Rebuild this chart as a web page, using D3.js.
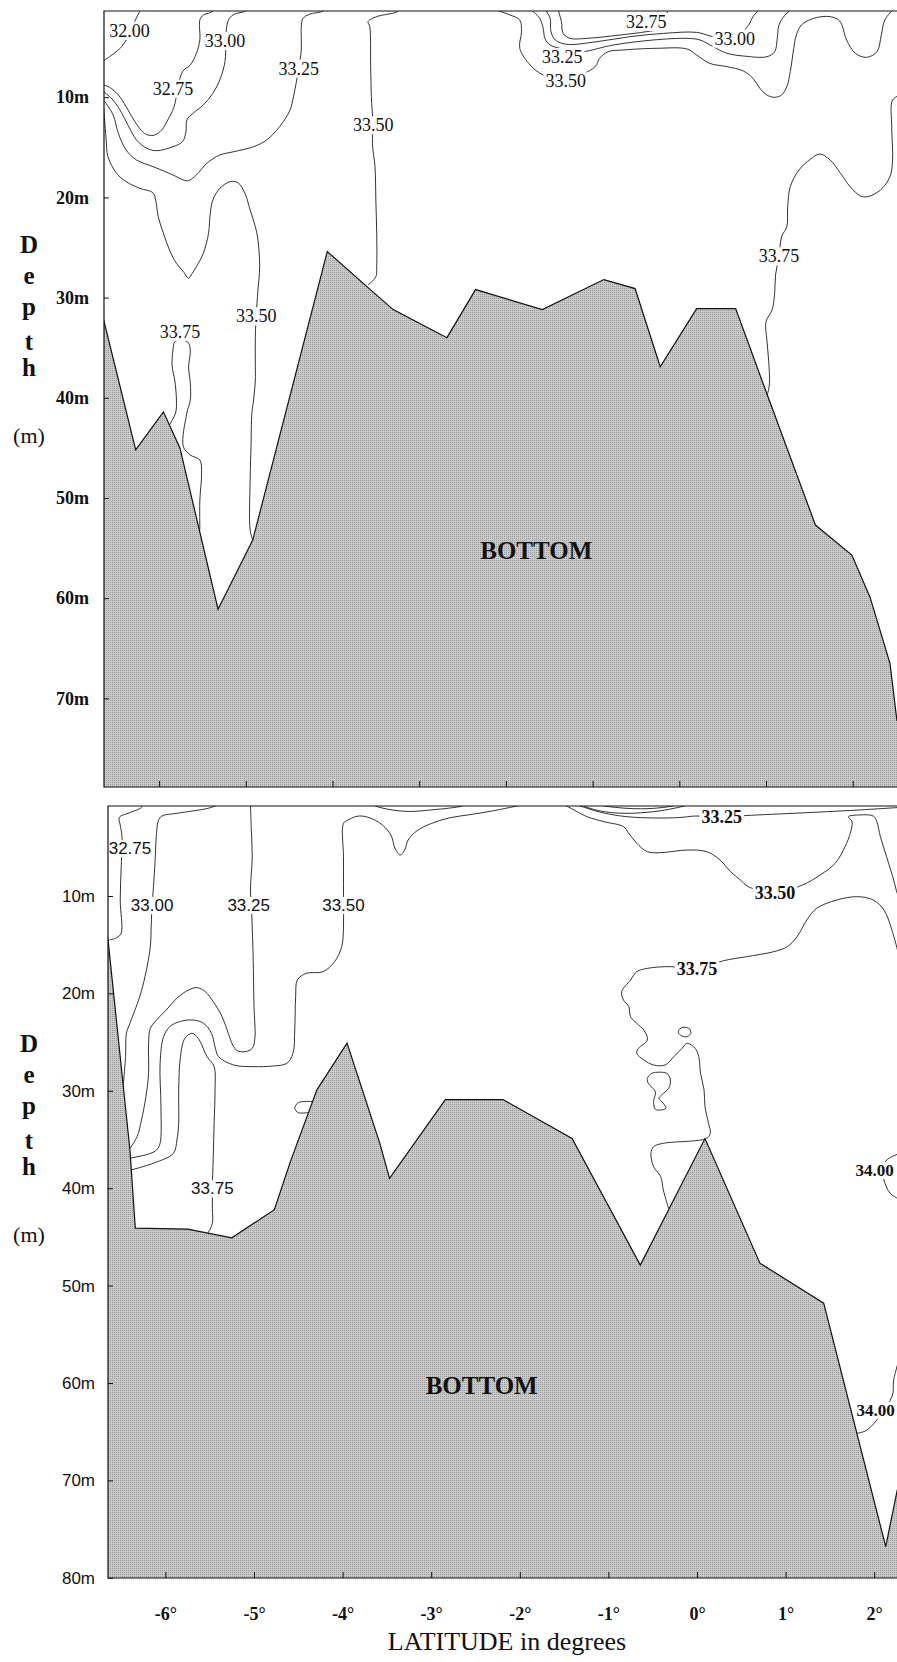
<!DOCTYPE html>
<html>
<head>
<meta charset="UTF-8">
<title>Salinity sections</title>
<style>
  body { margin: 0; background: #fff; }
  svg { display: block; }
</style>
</head>
<body>
<script src="https://d3js.org/d3.v7.min.js"></script>
<script>
// ticks
const latTicks = [-6, -5, -4, -3, -2, -1, 0, 1, 2];
const depthTicksTop = [10, 20, 30, 40, 50, 60, 70];
const depthTicksBottom = [10, 20, 30, 40, 50, 60, 70, 80];
const depthLetters = ["D", "e", "p", "t", "h"];

// ---- upper section, points are [latitude, depth m] ----
const topFloor = [[-6.64,32.2],[-6.27,45.2],[-5.95,41.4],[-5.76,45.0],[-5.32,61.1],[-4.92,54.2],[-4.06,25.4],[-3.59,29.0],[-3.30,31.2],[-2.68,34.0],[-2.35,29.2],[-1.58,31.2],[-0.87,28.2],[-0.51,29.1],[-0.22,36.9],[0.20,31.1],[0.65,31.1],[1.01,39.6],[1.57,52.7],[1.99,55.7],[2.20,59.9],[2.43,66.5],[2.51,72.2]];

const top3200 = [[-6.20,1.2],[-6.23,1.56],[-6.30,2.79],[-6.39,4.46],[-6.47,5.29],[-6.57,5.95],[-6.64,6.35]];
const top3275 = [[-6.64,8.78],[-6.57,9.02],[-6.47,9.78],[-6.38,10.94],[-6.28,12.44],[-6.18,13.54],[-6.13,13.77],[-6.05,13.77],[-5.97,13.27],[-5.89,12.11],[-5.83,11.01],[-5.73,7.45],[-5.64,6.79],[-5.57,5.62],[-5.53,4.29],[-5.53,2.30],[-5.49,1.80],[-5.41,1.56],[-5.35,1.2]];
const top3300 = [[-6.64,9.45],[-6.55,10.11],[-6.45,11.28],[-6.36,12.77],[-6.26,14.27],[-6.14,15.10],[-6.03,15.34],[-5.84,14.94],[-5.73,14.44],[-5.69,13.44],[-5.68,12.28],[-5.61,11.61],[-5.49,10.78],[-5.38,9.61],[-5.30,8.28],[-5.24,6.45],[-5.23,4.29],[-5.22,2.96],[-5.19,2.13],[-5.13,1.70],[-5.03,1.50],[-4.95,1.2]];
const top3325 = [[-6.64,10.28],[-6.53,11.78],[-6.47,13.61],[-6.38,15.27],[-6.26,16.27],[-6.07,16.93],[-5.84,17.76],[-5.72,18.26],[-5.66,18.33],[-5.57,17.76],[-5.45,16.60],[-5.30,15.77],[-5.14,15.44],[-4.91,14.94],[-4.76,14.27],[-4.61,12.94],[-4.49,11.28],[-4.45,9.95],[-4.39,7.12],[-4.36,5.29],[-4.36,2.96],[-4.34,2.13],[-4.26,1.70],[-4.14,1.50],[-4.05,1.2]];
const top3350a = [[-6.64,11.0],[-6.61,14.27],[-6.59,15.94],[-6.49,17.60],[-6.38,18.43],[-6.22,19.10],[-6.07,19.53],[-6.04,20.26],[-6.01,21.92],[-5.95,23.59],[-5.88,25.25],[-5.80,26.58],[-5.72,27.41],[-5.66,28.08],[-5.63,27.74],[-5.57,26.91],[-5.49,25.58],[-5.43,23.59],[-5.41,21.59],[-5.38,20.26],[-5.30,19.10],[-5.18,18.43],[-5.09,18.53],[-5.01,19.59],[-4.95,21.26],[-4.89,22.92],[-4.86,24.25],[-4.84,26.91],[-4.86,29.24],[-4.88,31.84],[-4.89,33.90],[-4.89,36.89],[-4.89,38.22],[-4.91,40.22],[-4.93,41.55],[-4.94,44.88],[-4.95,48.21],[-4.95,53.19],[-4.92,54.19]];
const top3350b = [[-3.22,1.2],[-3.26,1.50],[-3.49,1.96],[-3.59,2.46],[-3.57,2.96],[-3.56,6.95],[-3.55,10.28],[-3.54,11.61],[-3.53,12.77],[-3.54,14.60],[-3.51,16.93],[-3.50,20.26],[-3.49,23.59],[-3.49,26.91],[-3.50,27.91],[-3.59,28.74]];
const top3375a = [[-5.88,42.71],[-5.81,41.52],[-5.80,40.22],[-5.82,38.22],[-5.85,36.83],[-5.84,35.23],[-5.82,34.43],[-5.76,34.23],[-5.67,34.43],[-5.64,35.23],[-5.66,36.93],[-5.64,38.52],[-5.64,40.22],[-5.68,41.52],[-5.72,44.88],[-5.64,45.71],[-5.53,46.21],[-5.51,47.50],[-5.53,50.20],[-5.53,53.19]];
const top3275b = [[-1.40,1.2],[-1.36,2.46],[-1.34,3.63],[-1.26,4.13],[-1.07,4.13],[-0.68,3.79],[-0.38,3.46],[-0.22,3.13],[-0.17,2.30],[-0.13,1.2]];
const top3300b = [[-1.55,1.2],[-1.49,2.13],[-1.48,3.46],[-1.43,4.29],[-1.30,4.72],[-0.95,4.46],[-0.57,3.96],[-0.18,3.63],[0.20,3.53],[0.39,3.96],[0.64,4.13],[0.80,2.79],[0.85,1.96],[0.93,1.2]];
const top3325b = [[-1.72,1.2],[-1.61,2.13],[-1.57,3.13],[-1.55,4.13],[-1.49,4.79],[-1.38,5.12],[-1.26,5.46],[-1.11,5.46],[-0.76,4.79],[-0.30,4.29],[0.09,4.13],[0.24,4.29],[0.39,4.96],[0.55,5.62],[0.74,5.89],[1.01,5.96],[1.10,5.46],[1.13,4.13],[1.15,2.79],[1.22,1.80],[1.30,1.2]];
const top3350c = [[-2.15,1.2],[-1.95,1.80],[-1.84,2.30],[-1.82,3.46],[-1.84,5.12],[-1.72,6.79],[-1.57,7.78],[-1.32,8.30],[-0.97,6.95],[-0.92,6.12],[-0.82,5.46],[-0.65,5.29],[-0.26,5.12],[0.09,5.19],[0.20,5.79],[0.35,6.62],[0.55,6.95],[0.74,7.39],[0.85,8.12],[0.93,9.12],[1.01,9.78],[1.10,10.01],[1.18,9.78],[1.24,8.95],[1.28,7.45],[1.32,5.12],[1.35,3.79],[1.41,2.79],[1.55,2.13],[1.74,1.96],[1.85,2.40],[1.93,4.29],[2.03,5.62],[2.16,6.02],[2.28,5.46],[2.33,3.79],[2.37,2.30],[2.47,1.2]];
const top3375b = [[2.55,9.78],[2.46,10.28],[2.45,12.94],[2.46,16.27],[2.43,17.93],[2.32,19.26],[2.17,19.93],[2.09,19.86],[1.97,18.93],[1.86,17.60],[1.74,16.27],[1.62,15.67],[1.51,16.20],[1.38,17.27],[1.28,18.93],[1.25,20.93],[1.24,22.92],[1.18,23.92],[1.15,25.85],[1.11,27.74],[1.10,29.57],[1.07,31.24],[1.00,32.40],[1.01,34.23],[1.03,36.23],[1.04,38.56],[1.02,39.55],[1.01,40.1]];

// label text, latitude, depth
const topLabels = [["32.00",-6.34,3.36],["33.00",-5.24,4.36],["32.75",-5.84,9.12],["33.25",-4.39,7.12],["33.50",-3.53,12.77],["33.50",-4.88,31.84],["33.75",-5.76,33.40],["33.75",1.15,25.85],["32.75",-0.38,2.46],["33.00",0.64,4.13],["33.25",-1.35,5.96],["33.50",-1.31,8.38]];

// ---- lower section ----
const bottomFloor = [[-6.65,14.3],[-6.40,36.1],[-6.34,44.1],[-5.75,44.2],[-5.25,45.1],[-4.77,42.2],[-4.59,37.3],[-4.29,29.9],[-3.95,25.1],[-3.58,35.4],[-3.47,39.0],[-2.84,30.9],[-2.19,30.9],[-1.41,34.9],[-0.64,47.9],[0.09,34.9],[0.71,47.7],[1.43,51.8],[2.13,76.8],[2.26,71.0]];

const bot3275 = [[-6.27,0.7],[-6.27,0.90],[-6.40,1.44],[-6.52,1.92],[-6.51,2.71],[-6.49,3.91],[-6.50,7.33],[-6.51,10.41],[-6.50,13.83],[-6.55,14.28],[-6.63,14.52]];
const bot3300 = [[-5.42,0.7],[-5.52,1.00],[-5.87,1.51],[-6.04,1.79],[-6.08,2.27],[-6.10,3.57],[-6.12,6.99],[-6.14,9.73],[-6.15,10.92],[-6.16,12.98],[-6.17,15.20],[-6.23,18.28],[-6.29,20.34],[-6.40,23.07],[-6.44,24.10],[-6.45,26.49],[-6.48,29.9]];
const bot3325 = [[-5.04,0.7],[-5.03,3.22],[-5.02,5.96],[-5.04,9.38],[-5.03,10.92],[-5.02,13.15],[-5.01,16.23],[-5.00,21.36],[-4.99,24.61],[-5.02,25.64],[-5.10,25.98],[-5.19,25.88],[-5.24,25.30],[-5.29,24.10],[-5.36,22.39],[-5.46,20.85],[-5.55,19.82],[-5.64,19.41],[-5.74,19.65],[-5.87,20.50],[-5.99,21.70],[-6.10,22.73],[-6.17,23.59],[-6.19,25.13],[-6.19,28.21],[-6.22,30.60],[-6.27,33.00],[-6.32,34.71],[-6.40,35.91]];
const bot3350a = [[-6.41,36.93],[-6.19,36.49],[-6.10,36.08],[-6.06,35.39],[-6.05,31.63],[-6.06,27.18],[-6.02,24.44],[-5.95,23.41],[-5.84,22.90],[-5.69,22.73],[-5.57,23.07],[-5.48,24.10],[-5.44,25.47],[-5.40,26.49],[-5.23,27.35],[-5.01,27.52],[-4.78,27.45],[-4.63,27.18],[-4.56,26.15],[-4.54,23.76],[-4.53,20.34],[-4.51,18.62],[-4.41,17.94],[-4.22,17.77],[-4.09,16.74],[-4.01,15.20],[-3.99,13.15],[-3.99,10.92],[-3.99,8.70],[-3.99,5.96],[-3.99,2.54],[-3.94,2.20],[-3.82,1.79],[-3.69,1.99],[-3.55,2.71],[-3.45,3.84],[-3.41,5.07],[-3.35,5.79],[-3.30,5.28],[-3.26,4.25],[-3.16,3.30],[-3.00,2.56],[-2.80,1.99],[-2.55,1.63],[-2.31,1.27],[-2.00,0.7]];
const bot3350b = [[-1.55,0.6],[-1.50,0.66],[-1.24,1.86],[-1.05,2.37],[-0.83,2.88],[-0.77,3.56],[-0.68,4.59],[-0.56,5.45],[-0.41,5.55],[-0.11,5.28],[0.11,5.45],[0.26,6.30],[0.38,7.51],[0.49,8.36],[0.58,9.05],[0.88,9.66],[1.19,8.87],[1.39,7.84],[1.56,6.64],[1.67,4.94],[1.73,3.56],[1.75,2.37],[1.71,1.86],[1.84,1.68],[1.99,1.79],[2.03,2.37],[2.07,3.91],[2.14,5.97],[2.22,8.36],[2.26,9.72],[2.30,10.5]];
const bot3325b = [[-1.40,0.6],[-1.32,0.76],[-1.10,1.38],[-0.81,1.84],[-0.47,1.99],[-0.19,1.94],[-0.02,1.79],[0.28,1.89],[0.55,1.74],[1.16,1.48],[1.73,1.22],[2.30,0.9]];
const bot3300b = [[-1.30,0.6],[-1.26,0.83],[-1.05,1.34],[-0.79,1.51],[-0.49,1.34],[-0.26,1.00],[-0.11,0.66],[-0.08,0.5]];
const bot3275b = [[-1.12,0.5],[-1.09,0.66],[-0.79,1.00],[-0.49,1.00],[-0.23,0.66],[-0.20,0.5]];
const botSurfaceDip = [[-3.68,0.5],[-3.63,0.76],[-3.44,1.17],[-3.24,1.32],[-3.01,1.17],[-2.79,0.97],[-2.65,0.76],[-2.60,0.5]];
const bot3375a = [[-6.39,38.13],[-6.14,37.45],[-5.91,36.42],[-5.87,35.05],[-5.85,33.34],[-5.85,29.92],[-5.83,26.49],[-5.78,24.61],[-5.70,24.10],[-5.63,24.61],[-5.53,26.49],[-5.45,27.52],[-5.44,29.92],[-5.45,33.34],[-5.46,36.76],[-5.47,40.01],[-5.47,42.07],[-5.47,43.61],[-5.52,44.6]];
const bot3375b = [[2.30,16.91],[2.20,13.49],[2.11,11.44],[1.99,10.41],[1.81,10.07],[1.58,10.41],[1.35,11.27],[1.24,12.46],[1.13,14.17],[1.02,15.20],[0.87,15.71],[0.56,16.23],[0.30,16.64],[0,17.49],[-0.30,17.25],[-0.56,17.43],[-0.68,17.77],[-0.75,18.62],[-0.85,19.82],[-0.83,20.68],[-0.77,21.36],[-0.75,22.39],[-0.68,23.07],[-0.60,23.76],[-0.56,24.78],[-0.66,25.64],[-0.68,26.15],[-0.60,26.83],[-0.49,27.35],[-0.36,27.35],[-0.26,26.49],[-0.17,25.64],[-0.11,25.13],[-0.02,25.64],[0.02,26.49],[0.04,28.21],[0.08,29.92],[0.09,31.63],[0.13,33.34],[0.15,34.37],[0.11,34.88],[-0.38,35.39],[-0.49,35.73],[-0.52,36.42],[-0.49,37.79],[-0.41,38.81],[-0.38,40.18],[-0.32,42.1]];
const bot3375c = [[-4.34,31.1],[-4.50,31.22],[-4.54,31.80],[-4.50,32.24],[-4.39,32.24]];
const bot3400a = [[2.30,36.39],[2.14,37.11],[2.09,38.13],[2.11,39.16],[2.18,40.52],[2.30,41.21]];
const bot3400b = [[2.30,56.95],[2.22,59.69],[2.20,61.41],[1.92,64.82],[1.80,65.16]];
// closed pockets
const botPocket1 = [[-0.19,23.59],[-0.13,23.48],[-0.08,23.69],[-0.07,24.10],[-0.11,24.44],[-0.17,24.37],[-0.21,24.03]];
const botPocket2 = [[-0.51,28.21],[-0.45,28.10],[-0.34,28.21],[-0.30,28.89],[-0.32,29.75],[-0.40,30.43],[-0.43,30.77],[-0.38,31.29],[-0.35,31.80],[-0.41,31.97],[-0.47,31.90],[-0.49,31.11],[-0.47,30.09],[-0.55,29.23],[-0.56,28.72]];

const botLabelsSans = [["32.75",-6.40,5.11],["33.00",-6.15,10.92],["33.25",-5.06,10.92],["33.50",-3.99,10.92],["33.75",-5.47,40.01]];
const botLabelsSerif = [["33.25",0.28,1.89],["33.50",0.88,9.66],["33.75",0.0,17.49]];
const botLabelsEdge = [["34.00",1.79,38.13],["34.00",1.80,62.77]];

// ---- drawing ----
const width = 897, height = 1662;
const svg = d3.select("body").append("svg").attr("width", width).attr("height", height);
const defs = svg.append("defs");

// dithered grey like the print
const pat = defs.append("pattern").attr("id", "stipple")
  .attr("width", 2).attr("height", 2).attr("patternUnits", "userSpaceOnUse");
pat.append("rect").attr("width", 2).attr("height", 2).attr("fill", "#cacaca");
pat.append("rect").attr("x", 0).attr("y", 0).attr("width", 1).attr("height", 1).attr("fill", "#9a9a9a");

const xTop = d3.scaleLinear().domain([-6, 2]).range([159.1, 852.7]);
const yTop = d3.scaleLinear().domain([10, 70]).range([97.2, 698.4]);
const xBot = d3.scaleLinear().domain([-6, 2]).range([165.4, 874.2]);
const yBot = d3.scaleLinear().domain([10, 80]).range([896, 1577.8]);

const serif = "'Liberation Serif', 'Times New Roman', serif";
const sans = "'Liberation Sans', Arial, sans-serif";

function panel(o) {
  const clipId = o.id + "-clip";
  defs.append("clipPath").attr("id", clipId).append("rect")
    .attr("x", o.left).attr("y", o.top).attr("width", width - o.left).attr("height", o.bottom - o.top);
  const g = svg.append("g");
  const inner = g.append("g").attr("clip-path", `url(#${clipId})`);

  const open = d3.line().x(d => o.x(d[0])).y(d => o.y(d[1])).curve(d3.curveCatmullRom.alpha(0.5));
  const shut = d3.line().x(d => o.x(d[0])).y(d => o.y(d[1])).curve(d3.curveCatmullRomClosed.alpha(0.5));

  o.lines.forEach(pts => inner.append("path").attr("d", open(pts))
    .attr("fill", "none").attr("stroke", "#1c1c1c").attr("stroke-width", 0.9));
  (o.loops || []).forEach(pts => inner.append("path").attr("d", shut(pts))
    .attr("fill", "none").attr("stroke", "#1c1c1c").attr("stroke-width", 0.9));

  // sea floor, closed off below the frame
  const last = o.floor[o.floor.length - 1], first = o.floor[0];
  const poly = o.floor.concat([[2.8, last[1]], [2.8, 85], [-7, 85], [-7, first[1]]]);
  inner.append("path")
    .attr("d", d3.line().x(d => o.x(d[0])).y(d => o.y(d[1])).curve(d3.curveLinearClosed)(poly))
    .attr("fill", "url(#stipple)").attr("stroke", "#111").attr("stroke-width", 1.2)
    .attr("stroke-linejoin", "miter");

  // frame
  g.append("path")
    .attr("d", `M${width},${o.top}H${o.left}V${o.bottom}H${width}`)
    .attr("fill", "none").attr("stroke", "#111").attr("stroke-width", 1.2);

  // contour labels on white patches
  function label(t, lat, dep, font, size, weight, anchor) {
    const lg = inner.append("g");
    const txt = lg.append("text").attr("x", o.x(lat)).attr("y", o.y(dep))
      .attr("dy", "0.35em").attr("text-anchor", anchor || "middle")
      .attr("font-family", font).attr("font-size", size).attr("font-weight", weight)
      .attr("fill", "#111").text(t);
    const b = txt.node().getBBox();
    lg.insert("rect", "text").attr("x", b.x - 2).attr("y", b.y + 1)
      .attr("width", b.width + 4).attr("height", b.height - 2).attr("fill", "#fff");
  }
  o.labels.forEach(l => label(l[0], l[1], l[2], o.labelFont, o.labelSize, o.labelWeight));
  (o.labels2 || []).forEach(l => label(l[0], l[1], l[2], serif, 18, "bold"));
  (o.labels3 || []).forEach(l => label(l[0], l[1], l[2], serif, 17, "bold", "start"));

  // bottom text
  inner.append("text").attr("x", o.x(o.bottomText[0])).attr("y", o.y(o.bottomText[1]))
    .attr("dy", "0.35em").attr("text-anchor", "middle")
    .attr("font-family", serif).attr("font-size", 25).attr("font-weight", "bold")
    .attr("fill", "#111").text("BOTTOM");

  // depth axis, ticks point inward
  const ya = g.append("g").attr("transform", `translate(${o.left},0)`)
    .call(d3.axisLeft(o.y).tickValues(o.depthTicks).tickSize(-5).tickPadding(o.tickPad)
      .tickFormat(d => d + "m"));
  ya.select(".domain").remove();
  ya.selectAll("line").attr("stroke", "#111");
  ya.selectAll("text").attr("font-family", o.tickFont).attr("font-size", o.tickSize)
    .attr("font-weight", o.tickWeight).attr("fill", "#111");

  // latitude ticks along the bottom
  const xa = g.append("g").attr("transform", `translate(0,${o.bottom})`)
    .call(d3.axisBottom(o.x).tickValues(latTicks).tickSize(-6).tickPadding(29)
      .tickFormat(o.showLat ? (d => d + "°") : ""));
  xa.select(".domain").remove();
  xa.selectAll("line").attr("stroke", "#111");
  xa.selectAll("text").attr("font-family", serif).attr("font-size", 18)
    .attr("font-weight", "bold").attr("fill", "#111");

  // vertical "Depth (m)" title
  const ty = o.titleTop;
  const steps = [0, 31, 62, 97, 123];
  depthLetters.forEach((c, i) => g.append("text").attr("x", 29).attr("y", ty + steps[i])
    .attr("text-anchor", "middle").attr("font-family", serif).attr("font-size", 25)
    .attr("font-weight", "bold").attr("fill", "#111").text(c));
  g.append("text").attr("x", 29).attr("y", ty + 190).attr("text-anchor", "middle")
    .attr("font-family", serif).attr("font-size", 22).attr("fill", "#111").text("(m)");
}

panel({
  id: "upper", x: xTop, y: yTop, left: 104, top: 11, bottom: 787,
  floor: topFloor,
  lines: [top3200, top3275, top3300, top3325, top3350a, top3350b, top3375a,
          top3275b, top3300b, top3325b, top3350c, top3375b],
  labels: topLabels, labelFont: serif, labelSize: 18, labelWeight: "normal",
  bottomText: [-1.65, 55.2],
  depthTicks: depthTicksTop, tickPad: 15, tickFont: serif, tickSize: 18, tickWeight: "bold",
  showLat: false, titleTop: 253
});

panel({
  id: "lower", x: xBot, y: yBot, left: 108, top: 806, bottom: 1578,
  floor: bottomFloor,
  lines: [bot3275, bot3300, bot3325, bot3350a, bot3350b, bot3325b, bot3300b, bot3275b,
          botSurfaceDip, bot3375a, bot3375b, bot3375c, bot3400a, bot3400b],
  loops: [botPocket1, botPocket2],
  labels: botLabelsSans, labelFont: sans, labelSize: 17, labelWeight: "normal",
  labels2: botLabelsSerif, labels3: botLabelsEdge,
  bottomText: [-2.43, 60.2],
  depthTicks: depthTicksBottom, tickPad: 13, tickFont: sans, tickSize: 17, tickWeight: "normal",
  showLat: true, titleTop: 1052
});

svg.append("text").attr("x", 507).attr("y", 1650).attr("text-anchor", "middle")
  .attr("font-family", serif).attr("font-size", 26).attr("fill", "#111")
  .text("LATITUDE in degrees");
</script>
</body>
</html>
